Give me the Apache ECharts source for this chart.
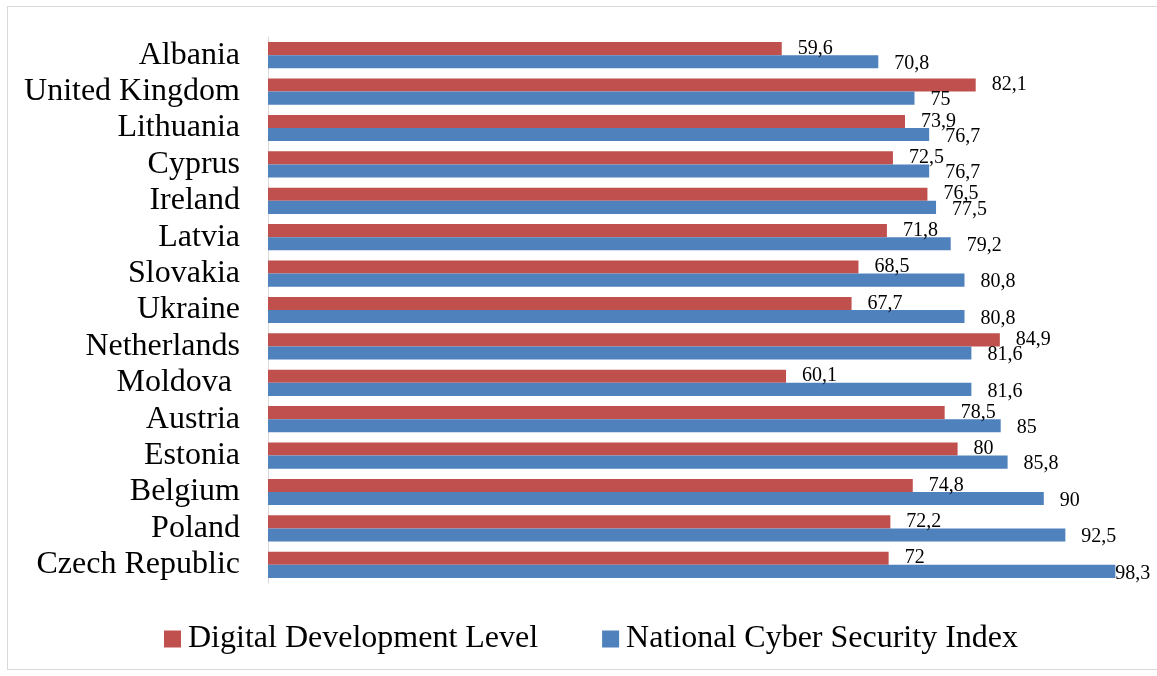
<!DOCTYPE html>
<html>
<head>
<meta charset="utf-8">
<script src="https://cdn.jsdelivr.net/npm/echarts@6/dist/echarts.min.js"></script>
<style>
  html, body { margin: 0; padding: 0; background: #fff; }
  #frame { position: absolute; left: 7px; top: 6px; width: 1160px; height: 664px; border: 1px solid #d9d9d9; box-sizing: border-box; }
  #chart { position: absolute; left: 0; top: 0; width: 1157px; height: 676px; }
</style>
</head>
<body>
<div id="frame"></div>
<div id="chart"></div>
<script>
const countries = [
  'Albania', 'United Kingdom', 'Lithuania', 'Cyprus', 'Ireland', 'Latvia', 'Slovakia',
  'Ukraine', 'Netherlands', 'Moldova ', 'Austria', 'Estonia', 'Belgium', 'Poland', 'Czech Republic'
]
const digitalLevel = [59.6, 82.1, 73.9, 72.5, 76.5, 71.8, 68.5, 67.7, 84.9, 60.1, 78.5, 80, 74.8, 72.2, 72]
const cyberIndex = [70.8, 75, 76.7, 76.7, 77.5, 79.2, 80.8, 80.8, 81.6, 81.6, 85, 85.8, 90, 92.5, 98.3]

const FONT = '"Liberation Serif", "Times New Roman", serif'

const fmt = (p) => String(p.value).replace('.', ',')

// the last label sits right against the bar, like the chart edge pushes it
const cyberData = cyberIndex.map((v, i) =>
  i === cyberIndex.length - 1 ? { value: v, label: { distance: 0 } } : v
)

const chart = echarts.init(document.getElementById('chart'), null, { renderer: 'canvas' })

chart.setOption({
  backgroundColor: 'transparent',
  animation: false,
  grid: { left: 268, right: 27, top: 37, bottom: 93 },
  legend: {
    bottom: 16,
    left: 159,
    itemWidth: 17,
    itemHeight: 17,
    itemGap: 64,
    icon: 'rect',
    textStyle: { fontFamily: FONT, fontSize: 32, color: '#000', padding: [0, 0, 0, 2] },
    data: ['Digital Development Level', 'National Cyber Security Index'],
  },
  xAxis: {
    type: 'value',
    min: 0,
    max: 100,
    show: false,
  },
  yAxis: {
    type: 'category',
    inverse: true,
    data: countries,
    axisLine: { show: true, lineStyle: { color: '#d9d9d9', width: 1 } },
    axisTick: { show: false },
    axisLabel: { interval: 0, fontFamily: FONT, fontSize: 32, color: '#000', margin: 28 },
    splitLine: { show: false },
  },
  series: [
    {
      name: 'Digital Development Level',
      type: 'bar',
      data: digitalLevel,
      barGap: '0%',
      barCategoryGap: '28%',
      itemStyle: { color: '#C0504D' },
      label: { show: true, position: 'right', distance: 16, formatter: fmt, fontFamily: FONT, fontSize: 20, color: '#000' },
    },
    {
      name: 'National Cyber Security Index',
      type: 'bar',
      data: cyberData,
      barGap: '0%',
      barCategoryGap: '28%',
      itemStyle: { color: '#4F81BD' },
      label: { show: true, position: 'right', distance: 16, offset: [0, 2], formatter: fmt, fontFamily: FONT, fontSize: 20, color: '#000' },
    },
  ],
})
</script>
</body>
</html>
